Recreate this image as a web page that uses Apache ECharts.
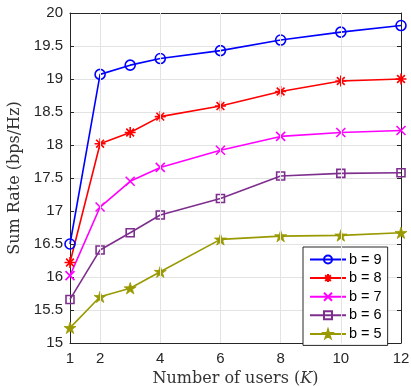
<!DOCTYPE html>
<html>
<head>
<meta charset="utf-8">
<script src="https://cdn.jsdelivr.net/npm/echarts@6/dist/echarts.min.js"></script>
<style>
  html, body { margin: 0; padding: 0; background: #fff; }
  #chart { width: 411px; height: 387px; }
</style>
</head>
<body>
<div id="chart"></div>
<script>
// Sum rate versus number of users for several quantization bit widths b
const users = [1, 2, 3, 4, 6, 8, 10, 12];
const rateB9 = [16.50, 19.07, 19.21, 19.31, 19.43, 19.59, 19.71, 19.81];
const rateB8 = [16.22, 18.02, 18.19, 18.43, 18.59, 18.81, 18.97, 19.00];
const rateB7 = [16.02, 17.06, 17.45, 17.66, 17.92, 18.13, 18.19, 18.22];
const rateB6 = [15.66, 16.41, 16.67, 16.94, 17.19, 17.53, 17.57, 17.58];
const rateB5 = [15.23, 15.70, 15.83, 16.08, 16.57, 16.62, 16.63, 16.67];
const seriesNames = ['b = 9', 'b = 8', 'b = 7', 'b = 6', 'b = 5'];
const xTickValues = [1, 2, 4, 6, 8, 10, 12];
const xGridValues = [2, 4, 6, 8, 10];

const colors = ['#0000ff', '#ff0000', '#ff00ff', '#7e2f8e', '#999900'];
const asterisk = 'path://M0,-10L0,10M-10,0L10,0M-7.07,-7.07L7.07,7.07M-7.07,7.07L7.07,-7.07';
const cross = 'path://M-10,-10L10,10M-10,10L10,-10';
const star = 'path://M0,-10L2.245,-3.09L9.511,-3.09L3.633,1.18L5.878,8.09L0,3.819L-5.878,8.09L-3.633,1.18L-9.511,-3.09L-2.245,-3.09Z';

const markers = [
  { symbol: 'circle', size: 10, fill: 'transparent', border: 1.6 },
  { symbol: asterisk, size: 11, fill: 'transparent', border: 1.6 },
  { symbol: cross, size: 9, fill: 'transparent', border: 1.6 },
  { symbol: 'rect', size: 8, fill: 'transparent', border: 1.6 },
  { symbol: star, size: 12, fill: null, border: 0.8 }
];
const allRates = [rateB9, rateB8, rateB7, rateB6, rateB5];

const series = allRates.map((vals, i) => ({
  name: seriesNames[i],
  type: 'line',
  data: users.map((u, k) => [u, vals[k]]),
  symbol: markers[i].symbol,
  symbolSize: markers[i].size,
  symbolKeepAspect: true,
  showAllSymbol: true,
  lineStyle: { color: colors[i], width: 1.6 },
  itemStyle: {
    color: markers[i].fill === null ? colors[i] : markers[i].fill,
    borderColor: colors[i],
    borderWidth: markers[i].border
  },
  emphasis: { disabled: true },
  z: 3
}));

// vertical grid lines at the labelled x ticks
series.push({
  name: 'xgrid',
  type: 'line',
  data: [],
  silent: true,
  z: 1,
  markLine: {
    silent: true,
    symbol: 'none',
    label: { show: false },
    lineStyle: { color: '#e3e3e3', width: 1, type: 'solid' },
    data: xGridValues.map(v => ({ xAxis: v }))
  }
});

const gridBox = { left: 70, right: 10, top: 13, bottom: 44, containLabel: false, outerBoundsMode: 'none' };
const tickFont = { fontFamily: 'Liberation Sans, Arial, sans-serif', fontSize: 15, color: '#262626' };
const titleFont = 'DejaVu Serif, serif';

const chart = echarts.init(document.getElementById('chart'), null, { renderer: 'canvas' });
chart.setOption({
  animation: false,
  backgroundColor: '#fff',
  grid: gridBox,
  xAxis: [{
    type: 'value', min: 1, max: 12,
    axisLine: { show: true, lineStyle: { color: '#262626', width: 1 } },
    axisTick: { show: true, inside: true, length: 4, customValues: xTickValues, lineStyle: { color: '#262626' } },
    axisLabel: { show: true, margin: 8, customValues: xTickValues, ...tickFont },
    splitLine: { show: false },
    name: '{t|Number of users (}{i|K}{t|)}',
    nameLocation: 'middle',
    nameGap: 25,
    nameTextStyle: {
      rich: {
        t: { fontFamily: titleFont, fontSize: 16, color: '#333' },
        i: { fontFamily: titleFont, fontSize: 16, fontStyle: 'italic', color: '#333' }
      }
    }
  }, {
    type: 'value', min: 1, max: 12, position: 'top',
    axisLine: { show: true, onZero: false, lineStyle: { color: '#262626', width: 1 } },
    axisTick: { show: true, inside: true, length: 4, customValues: xTickValues, lineStyle: { color: '#262626' } },
    axisLabel: { show: false },
    splitLine: { show: false }
  }],
  yAxis: [{
    type: 'value', min: 15, max: 20, interval: 0.5,
    axisLine: { show: true, lineStyle: { color: '#262626', width: 1 } },
    axisTick: { show: true, inside: true, length: 4, lineStyle: { color: '#262626' } },
    axisLabel: { show: true, margin: 7, ...tickFont },
    splitLine: { show: true, lineStyle: { color: '#e3e3e3', width: 1 } },
    name: 'Sum Rate (bps/Hz)',
    nameLocation: 'middle',
    nameGap: 47,
    nameTextStyle: { fontFamily: titleFont, fontSize: 16, color: '#333' }
  }, {
    type: 'value', min: 15, max: 20, interval: 0.5, position: 'right',
    axisLine: { show: true, onZero: false, lineStyle: { color: '#262626', width: 1 } },
    axisTick: { show: true, inside: true, length: 4, lineStyle: { color: '#262626' } },
    axisLabel: { show: false },
    splitLine: { show: false }
  }],
  legend: {
    data: seriesNames,
    orient: 'vertical',
    left: 303,
    top: 247,
    width: 96,
    padding: [5, 6, 4, 6],
    itemWidth: 36,
    itemHeight: 10,
    itemGap: 3.6,
    backgroundColor: '#fff',
    borderColor: '#262626',
    borderWidth: 1,
    borderRadius: 0,
    textStyle: { fontFamily: 'Liberation Sans, Arial, sans-serif', fontSize: 14.5, lineHeight: 14, height: 14, color: '#000', padding: [0, 0, 0, -2] },
    selectedMode: false
  },
  series: series
});
</script>
</body>
</html>
